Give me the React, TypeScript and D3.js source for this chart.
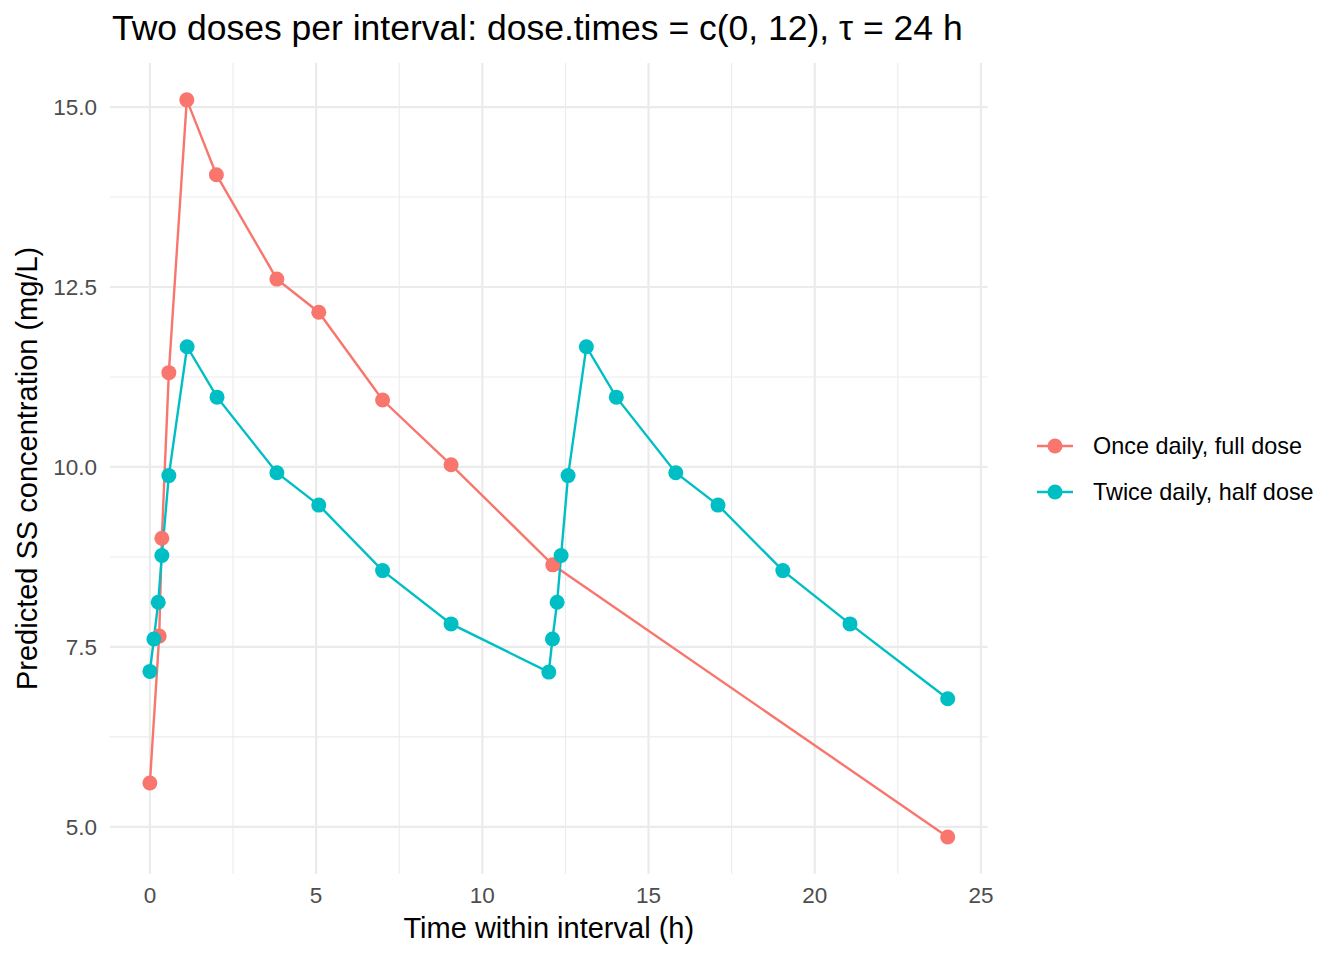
import React from "react";
import * as d3 from "d3";

const onceTimes = [0, 0.28, 0.36, 0.57, 1.11, 2.0, 3.82, 5.08, 7.0, 9.06, 12.12, 24.0];
const onceConc = [5.61, 7.65, 9.01, 11.31, 15.1, 14.06, 12.61, 12.15, 10.93, 10.03, 8.64, 4.86];

const twiceTimes = [0, 0.12, 0.25, 0.36, 0.57, 1.12, 2.02, 3.82, 5.08, 7.0, 9.06, 12.0, 12.11, 12.25, 12.37, 12.58, 13.13, 14.03, 15.82, 17.09, 19.04, 21.06, 24.0];
const twiceConc = [7.16, 7.61, 8.12, 8.77, 9.88, 11.67, 10.97, 9.92, 9.47, 8.56, 7.82, 7.15, 7.61, 8.12, 8.77, 9.88, 11.67, 10.97, 9.92, 9.47, 8.56, 7.82, 6.78];

const seriesNames = ["Once daily, full dose", "Twice daily, half dose"];
const seriesColors = ["#F8766D", "#00BFC4"];

const xTicks = [0, 5, 10, 15, 20, 25];
const xMinor = [2.5, 7.5, 12.5, 17.5, 22.5];
const yTicks = [5.0, 7.5, 10.0, 12.5, 15.0];
const yMinor = [6.25, 8.75, 11.25, 13.75];

const title = "Two doses per interval: dose.times = c(0, 12), τ = 24 h";
const xTitle = "Time within interval (h)";
const yTitle = "Predicted SS concentration (mg/L)";

export default function App() {
  const W = 1344, H = 960;
  const left = 110, right = 987.6, top = 63, bottom = 873.8;
  const x = d3.scaleLinear().domain([-1.2, 25.2]).range([left, right]);
  const y = d3.scaleLinear().domain([4.348, 15.612]).range([bottom, top]);
  const font = "'Liberation Sans', Arial, sans-serif";

  const series = [
    onceTimes.map((t, i) => [t, onceConc[i]] as [number, number]),
    twiceTimes.map((t, i) => [t, twiceConc[i]] as [number, number]),
  ];
  const line = d3.line<[number, number]>().x(d => x(d[0])).y(d => y(d[1]));

  return (
    <svg width={W} height={H} style={{ position: "absolute", left: 0, top: 0, background: "#fff" }} fontFamily={font}>
      <rect width={W} height={H} fill="#fff" />
      {xMinor.map(v => (
        <line key={"xm" + v} x1={x(v)} x2={x(v)} y1={top} y2={bottom} stroke="#EBEBEB" strokeWidth={1.1} />
      ))}
      {yMinor.map(v => (
        <line key={"ym" + v} x1={left} x2={right} y1={y(v)} y2={y(v)} stroke="#EBEBEB" strokeWidth={1.1} />
      ))}
      {xTicks.map(v => (
        <line key={"xg" + v} x1={x(v)} x2={x(v)} y1={top} y2={bottom} stroke="#EBEBEB" strokeWidth={2.2} />
      ))}
      {yTicks.map(v => (
        <line key={"yg" + v} x1={left} x2={right} y1={y(v)} y2={y(v)} stroke="#EBEBEB" strokeWidth={2.2} />
      ))}
      {series.map((s, i) => (
        <path key={"l" + i} d={line(s) || ""} fill="none" stroke={seriesColors[i]} strokeWidth={2.4} />
      ))}
      {series.map((s, i) => (
        <g key={"p" + i}>
          {s.map((d, j) => (
            <circle key={j} cx={x(d[0])} cy={y(d[1])} r={7.5} fill={seriesColors[i]} />
          ))}
        </g>
      ))}
      {xTicks.map(v => (
        <text key={"xt" + v} x={x(v)} y={903} textAnchor="middle" fontSize={22.5} fill="#4D4D4D">{v}</text>
      ))}
      {yTicks.map(v => (
        <text key={"yt" + v} x={97} y={y(v)} dy="0.36em" textAnchor="end" fontSize={22.5} fill="#4D4D4D">{d3.format(".1f")(v)}</text>
      ))}
      <text x={(left + right) / 2} y={938} textAnchor="middle" fontSize={29} fill="#000">{xTitle}</text>
      <text transform={`translate(37,${(top + bottom) / 2}) rotate(-90)`} textAnchor="middle" fontSize={29} fill="#000">{yTitle}</text>
      <text x={112} y={40} fontSize={35.5} fill="#000">{title}</text>
      {seriesNames.map((n, i) => (
        <g key={"lg" + i} transform={`translate(0,${446 + i * 46})`}>
          <line x1={1037} x2={1073} y1={0} y2={0} stroke={seriesColors[i]} strokeWidth={2.4} />
          <circle cx={1055} cy={0} r={7.5} fill={seriesColors[i]} />
          <text x={1093} y={0} dy="0.36em" fontSize={23.4} fill="#000">{n}</text>
        </g>
      ))}
    </svg>
  );
}
